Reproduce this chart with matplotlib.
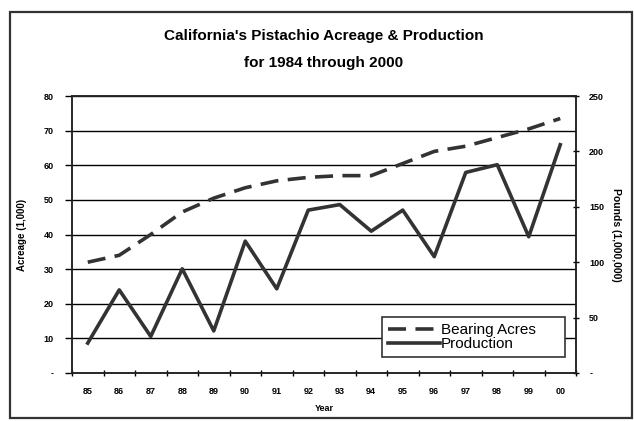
import matplotlib
matplotlib.use("Agg")
import matplotlib.pyplot as plt
from matplotlib.ticker import FixedLocator, FuncFormatter
from matplotlib.patches import Rectangle
import numpy as np

# pistachio data, 1985-2000
years = ['85', '86', '87', '88', '89', '90', '91', '92',
         '93', '94', '95', '96', '97', '98', '99', '00']
bearing_acres = [32, 34, 40, 46.5, 50.5, 53.5, 55.5, 56.5,
                 57, 57, 60.5, 64, 65.5, 68, 70.5, 73.5]      # 1,000 acres
production = [27, 75, 33, 94, 38, 119, 76, 147,
              152, 128, 147, 105, 181, 188, 123, 206]        # 1,000,000 lbs

plt.rcParams['font.family'] = ['Liberation Sans', 'DejaVu Sans']
line_col = '#333333'

fig = plt.figure(figsize=(6.34, 4.21), dpi=100)
ax = fig.add_axes([72 / 634, 1 - 373 / 421, 504 / 634, 277 / 421])
ax2 = ax.twinx()

x = np.arange(len(years))
l1, = ax.plot(x, bearing_acres, color=line_col, lw=2.6,
              linestyle=(0, (5, 2.6)), label='Bearing Acres')
l2, = ax2.plot(x, production, color=line_col, lw=2.6, label='Production')

# left axis: acreage
ax.set_xlim(-0.5, len(years) - 0.5)
ax.set_ylim(0, 80)
ax.set_yticks(range(0, 81, 10))
ax.yaxis.grid(True, color='black', lw=1)
ax.set_axisbelow(True)
dash_zero = FuncFormatter(lambda v, p: '-' if v == 0 else f'{v:.0f}')
ax.yaxis.set_major_formatter(dash_zero)

# right axis: pounds
ax2.set_ylim(0, 250)
ax2.set_yticks(range(0, 251, 50))
ax2.yaxis.set_major_formatter(dash_zero)

# category boundaries get tick marks, centres get the labels
ax.xaxis.set_major_locator(FixedLocator(np.arange(-0.5, len(years), 1)))
ax.xaxis.set_major_formatter(FuncFormatter(lambda v, p: ''))
ax.xaxis.set_minor_locator(FixedLocator(x))
ax.set_xticklabels(years, minor=True)
ax.tick_params(axis='x', which='major', direction='inout', length=5, width=1)
ax.tick_params(axis='x', which='minor', length=0, pad=10)

for a in (ax, ax2):
    for s in a.spines.values():
        s.set_linewidth(1.1)
        s.set_color('#222222')
ax.tick_params(axis='y', direction='out', length=5, width=1, pad=8)
ax2.tick_params(axis='y', direction='inout', length=5, width=1, pad=7)

for lab in ax.get_yticklabels() + ax2.get_yticklabels() + ax.get_xticklabels(minor=True):
    lab.set_fontsize(6.5)
    lab.set_fontweight('bold')

ax.set_xlabel('Year', fontsize=6.5, fontweight='bold', labelpad=6)
ax.set_ylabel('Acreage (1,000)', fontsize=7, fontweight='bold', labelpad=12)
ax2.set_ylabel('Pounds (1,000,000)', fontsize=7.5, fontweight='bold',
               rotation=270, labelpad=12)

fig.text(0.51, 1 - 36 / 421, "California's Pistachio Acreage & Production",
         ha='center', va='center', fontsize=11, fontweight='bold')
fig.text(0.51, 1 - 63 / 421, 'for 1984 through 2000',
         ha='center', va='center', fontsize=11, fontweight='bold')

leg = fig.legend(handles=[l1, l2], loc='lower left',
                 bbox_to_anchor=(374 / 634, 1 - 365 / 421, 199 / 634, 49 / 421),
                 mode='expand', fontsize=11, handlelength=3.4,
                 handletextpad=0.1, labelspacing=0.0, borderpad=0.4,
                 fancybox=False, framealpha=1, edgecolor='#333333')
leg.get_frame().set_linewidth(1.2)

# outer chart border
fig.patches.append(Rectangle((10 / 634, 3 / 421), 622 / 634, 406 / 421,
                             transform=fig.transFigure, fill=False,
                             edgecolor='#333333', lw=1.6))

fig.savefig('out.png', dpi=100)
